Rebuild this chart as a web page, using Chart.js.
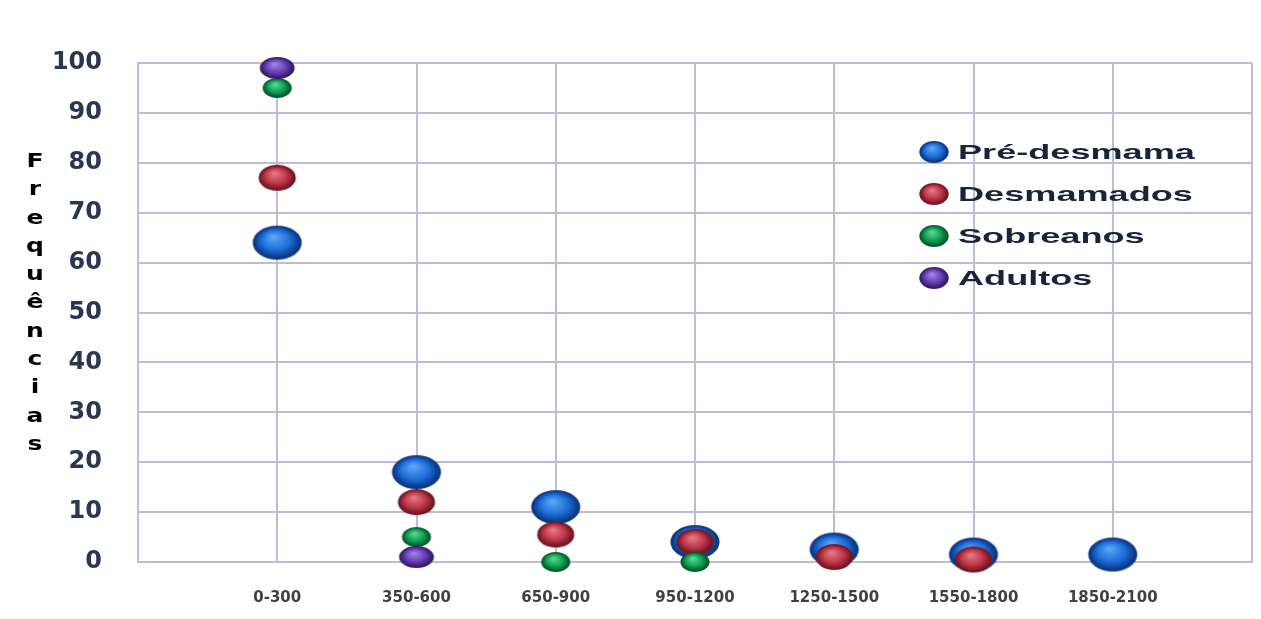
<!DOCTYPE html>
<html>
<head>
<meta charset="utf-8">
<script src="https://cdn.jsdelivr.net/npm/chart.js@4.4.1/dist/chart.umd.min.js"></script>
<style>
body{margin:0;background:#fff;}
#wrap{position:relative;width:1261px;height:619px;}
#canvas1{display:block;}
#ytitle{position:absolute;left:25px;top:146px;width:20px;text-align:center;font:bold 20px "DejaVu Sans";line-height:28.3px;color:#000;}
#ytitle div{transform:scaleX(1.25);}
#legend{position:absolute;left:918px;top:131px;}
.item{height:42px;display:flex;align-items:center;}
.item span{font:bold 21px "Liberation Sans";color:#1c2238;display:inline-block;transform:scaleX(1.72);transform-origin:left center;margin-left:8px;white-space:nowrap;}
</style>
</head>
<body>
<div id="wrap">
  <canvas id="canvas1" width="1261" height="619"></canvas>
  <div id="ytitle"></div>
  <div id="legend"></div>
</div>
<script>
var categories = ['0-300', '350-600', '650-900', '950-1200', '1250-1500', '1550-1800', '1850-2100'];
var preDesmama = [64, 18, 11, 4, 2.5, 1.5, 1.5];
var desmamados = [77, 12, 5.5, 4, 1, 0.5, null];
var sobreanos  = [95, 5, 0, 0, null, null, null];
var adultos    = [99, 1, null, null, null, null, null];

// glossy oval marker, drawn once and used as pointStyle
function ball(w, h, light, mid, dark) {
  var c = document.createElement('canvas');
  c.width = w; c.height = h;
  var g = c.getContext('2d');
  g.save();
  g.translate(w / 2, h / 2);
  g.scale(w / h, 1);
  var r = h / 2 - 1;
  var gr = g.createRadialGradient(-r * 0.15, -r * 0.35, r * 0.05, 0, 0, r);
  gr.addColorStop(0, light);
  gr.addColorStop(0.55, mid);
  gr.addColorStop(0.9, dark);
  gr.addColorStop(1, dark);
  g.beginPath();
  g.arc(0, 0, r, 0, Math.PI * 2);
  g.fillStyle = gr;
  g.fill();
  g.restore();
  return c;
}

function points(vals) {
  var out = [];
  vals.forEach(function (v, i) {
    if (v !== null) out.push({ x: i + 1, y: v });
  });
  return out;
}

var series = [
  { label: 'Pré-desmama', vals: preDesmama, w: 52, h: 36, c: ['#5aa6f5', '#1f6fd8', '#0c3a88'], order: 4 },
  { label: 'Desmamados', vals: desmamados, w: 40, h: 28, c: ['#e27a86', '#c03848', '#741826'], order: 3 },
  { label: 'Sobreanos', vals: sobreanos, w: 32, h: 22, c: ['#5ad794', '#10a055', '#055c2d'], order: 2 },
  { label: 'Adultos', vals: adultos, w: 38, h: 24, c: ['#a184e4', '#6a3fb5', '#371c6c'], order: 1 }
];

var datasets = series.map(function (s) {
  return {
    label: s.label,
    data: points(s.vals),
    pointStyle: ball(s.w, s.h, s.c[0], s.c[1], s.c[2]),
    pointRadius: s.w / 2,
    pointHoverRadius: s.w / 2,
    backgroundColor: s.c[1],
    borderColor: s.c[2],
    order: s.order,
    clip: false
  };
});

// legend (html)
var leg = document.getElementById('legend');
series.forEach(function (s) {
  var row = document.createElement('div');
  row.className = 'item';
  row.appendChild(ball(32, 24, s.c[0], s.c[1], s.c[2]));
  var t = document.createElement('span');
  t.textContent = s.label;
  row.appendChild(t);
  leg.appendChild(row);
});

// stacked axis title
var yt = document.getElementById('ytitle');
'Frequências'.split('').forEach(function (ch) {
  var d = document.createElement('div');
  d.textContent = ch;
  yt.appendChild(d);
});

var gridColor = '#bdbddb';

new Chart(document.getElementById('canvas1'), {
  type: 'scatter',
  data: { datasets: datasets },
  options: {
    responsive: false,
    animation: false,
    // big markers would otherwise add auto padding on the right
    layout: { autoPadding: false, padding: { left: 0, top: 63, right: 9, bottom: 0 } },
    plugins: { legend: { display: false } },
    scales: {
      x: {
        type: 'linear',
        min: 0,
        max: 8,
        grid: { color: gridColor, lineWidth: 2, drawTicks: true, tickLength: 27, tickColor: 'rgba(0,0,0,0)' },
        border: { color: gridColor, width: 2 },
        ticks: {
          stepSize: 1,
          autoSkip: false,
          maxRotation: 0,
          padding: 0,
          color: '#404040',
          font: { family: 'DejaVu Sans', size: 15, weight: 'bold' },
          callback: function (v) { return categories[v - 1] || ''; }
        },
        afterFit: function (s) { s.height = 57; }
      },
      y: {
        min: 0,
        max: 100,
        grid: { color: gridColor, lineWidth: 2, drawTicks: false },
        border: { color: gridColor, width: 2 },
        ticks: {
          stepSize: 10,
          padding: 36,
          color: '#2e3550',
          font: { family: 'DejaVu Sans', size: 24, weight: 'bold' }
        },
        afterFit: function (s) { s.width = 138; }
      }
    }
  }
});
</script>
</body>
</html>
